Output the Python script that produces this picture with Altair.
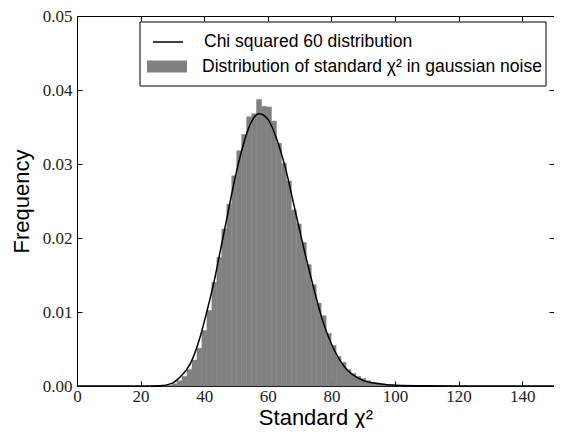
import altair as alt
import pandas as pd

# histogram bin edges (left edges + final right edge) and bar heights
bin_edges = [26.78, 28.35, 29.91, 31.47, 33.03, 34.60, 36.16, 37.72, 39.28, 40.85,
             42.41, 43.97, 45.53, 47.10, 48.66, 50.22, 51.78, 53.35, 54.91, 56.47,
             58.03, 59.60, 61.16, 62.72, 64.28, 65.85, 67.41, 68.97, 70.53, 72.10,
             73.66, 75.22, 76.78, 78.35, 79.91, 81.47, 83.03, 84.60, 86.16, 87.72,
             89.28, 90.85, 92.41, 93.97, 95.53, 97.10, 98.66, 100.22, 101.78, 103.35]
bin_heights = [0.00005, 0.0001, 0.0003, 0.0007, 0.0013, 0.0022, 0.0035, 0.0051, 0.0075, 0.0102,
               0.0140, 0.0174, 0.0212, 0.0246, 0.0284, 0.0318, 0.0340, 0.0364, 0.0368, 0.0387,
               0.0378, 0.0377, 0.0358, 0.0328, 0.0301, 0.0277, 0.0238, 0.0219, 0.0194, 0.0164,
               0.0137, 0.0112, 0.0095, 0.0071, 0.0055, 0.0040, 0.0032, 0.0022, 0.0017, 0.0013,
               0.0010, 0.0007, 0.0005, 0.0004, 0.0003, 0.0002, 0.00015, 0.0001, 0.00007]

# chi-squared (60 dof) curve
curve_x = [0, 20, 26, 29.8, 32.4, 35.6, 38.7, 40.8, 43.4, 45.5, 47.6, 49.7, 52.3, 54.4, 57.3,
           60.1, 62.7, 65.8, 68.4, 71.0, 74.1, 77.2, 80.4, 84.5, 89.7, 94.9, 100.2, 110, 120, 150]
curve_y = [0, 0, 0.00003, 0.00036, 0.0012, 0.0030, 0.0066, 0.0100, 0.0147, 0.0192, 0.0237,
           0.0281, 0.0326, 0.0353, 0.0368, 0.0360, 0.0335, 0.0290, 0.0241, 0.0192, 0.0138,
           0.0089, 0.0053, 0.0024, 0.0008, 0.0003, 0.0001, 0.00002, 0, 0]

x_ticks = [0, 20, 40, 60, 80, 100, 120, 140]
y_ticks = [0.0, 0.01, 0.02, 0.03, 0.04, 0.05]

line_label = "Chi squared 60 distribution"
bar_label = "Distribution of standard χ² in gaussian noise"

bars = pd.DataFrame({
    "x0": bin_edges[:-1],
    "x1": bin_edges[1:],
    "h": bin_heights,
    "base": [0.0] * len(bin_heights),
    "bname": [bar_label] * len(bin_heights),
})
curve = pd.DataFrame({"x": curve_x, "y": curve_y, "lname": [line_label] * len(curve_x)})

xscale = alt.Scale(domain=[0, 150], nice=False, zero=False)
yscale = alt.Scale(domain=[0, 0.05], nice=False)
inward = {"expr": "-5"}

serif = "Liberation Serif"
sans = "Liberation Sans"

W, H = 477, 370

bottom_axis = alt.Axis(
    values=x_ticks, format="d", tickSize=inward, tickColor="black",
    labelFont=serif, labelFontSize=17, labelColor="#222222", labelPadding=7,
    labelFlush=False, labelOverlap=False,
    title="Standard χ²", titleFont=sans, titleFontSize=22, titleFontWeight="normal",
    titleColor="black", titleX=W / 2, titleY=38, titleBaseline="alphabetic",
    grid=False, domainColor="black",
)
left_axis = alt.Axis(
    values=y_ticks, format=".2f", tickSize=inward, tickColor="black",
    labelFont=serif, labelFontSize=17, labelColor="#222222", labelPadding=10,
    labelFlush=False, labelOverlap=False,
    title="Frequency", titleFont=sans, titleFontSize=22, titleFontWeight="normal",
    titleColor="black", titleX=-49, titleY=H / 2, titleAngle=270, titleAlign="center",
    titleBaseline="alphabetic", grid=False, domainColor="black",
)
top_axis = alt.Axis(orient="top", values=x_ticks, tickSize=inward, tickColor="black",
                    labels=False, title=None, grid=False, domainColor="black")
right_axis = alt.Axis(orient="right", values=y_ticks, tickSize=inward, tickColor="black",
                      labels=False, title=None, grid=False, domainColor="black")

box = alt.Chart(pd.DataFrame({"a": [0]})).mark_rect(
    fill="white", stroke="black", strokeWidth=1
).encode(
    x=alt.value(63), x2=alt.value(469), y=alt.value(6), y2=alt.value(70)
)

hist = alt.Chart(bars).mark_rect(stroke="#808080", strokeWidth=0.5).encode(
    x=alt.X("x0:Q", scale=xscale, axis=bottom_axis),
    x2="x1:Q",
    y=alt.Y("h:Q", scale=yscale, axis=left_axis),
    y2="base:Q",
    fill=alt.Fill("bname:N", scale=alt.Scale(range=["#808080"]), legend=alt.Legend(
        orient="none", legendX=70, legendY=30.5, title=None, padding=0,
        symbolType="M-1,-0.3H1V0.3H-1Z", symbolSize=1600, symbolStrokeWidth=0,
        symbolOpacity=1, labelFont=sans, labelFontSize=17.5, labelColor="black",
        labelOffset=15, labelLimit=0,
    )),
)

line = alt.Chart(curve).mark_line(strokeWidth=1.5, interpolate="monotone").encode(
    x=alt.X("x:Q", scale=xscale, axis=top_axis),
    y=alt.Y("y:Q", scale=yscale, axis=right_axis),
    stroke=alt.Stroke("lname:N", scale=alt.Scale(range=["black"]), legend=alt.Legend(
        orient="none", legendX=75, legendY=10, title=None, padding=0,
        symbolType="stroke", symbolSize=900, symbolStrokeWidth=1.5,
        labelFont=sans, labelFontSize=17.5, labelColor="black",
        labelOffset=20, labelLimit=0,
    )),
)

chart = alt.layer(box, hist, line).resolve_axis(
    x="independent", y="independent"
).properties(
    width=W, height=H,
    padding={"left": 69, "top": 8, "right": 0, "bottom": 42},
    autosize=alt.AutoSizeParams(type="none"),
    background="white",
).configure_view(stroke="black", strokeWidth=1)

chart.save("out.html", embed_options={"renderer": "svg", "actions": False})
